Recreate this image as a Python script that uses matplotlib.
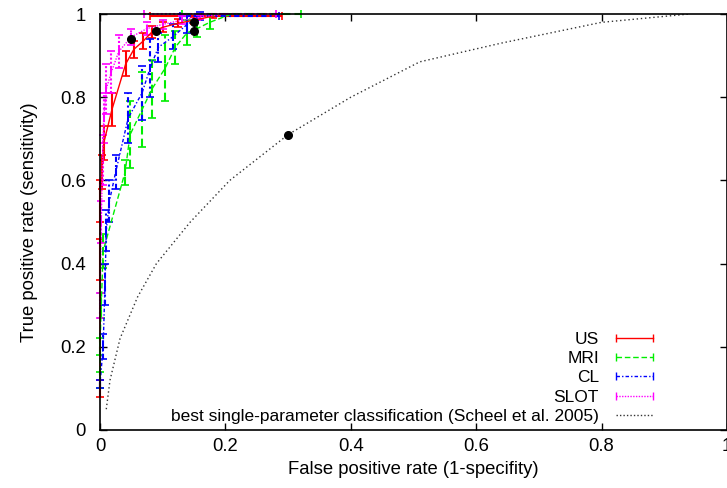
import numpy as np
import matplotlib
matplotlib.use("Agg")
import matplotlib.pyplot as plt
from matplotlib.lines import Line2D

plt.rcParams['font.family'] = ['Liberation Sans', 'DejaVu Sans']

# ROC points (false positive rate, true positive rate, vertical error)
us_fpr = [0.000, 0.000, 0.000, 0.003, 0.006, 0.019, 0.041, 0.054, 0.069, 0.083, 0.100, 0.125, 0.150, 0.180]
us_tpr = [0.10, 0.41, 0.55, 0.62, 0.69, 0.77, 0.88, 0.915, 0.935, 0.957, 0.968, 0.978, 0.985, 0.995]
us_err = [0.02, 0.05, 0.05, 0.04, 0.04, 0.04, 0.03, 0.02, 0.02, 0.015, 0.012, 0.01, 0.008, 0.005]
us_xerr = [0.10, 0.11]

mri_fpr = [0.000, 0.000, 0.002, 0.005, 0.040, 0.048, 0.067, 0.083, 0.104, 0.120, 0.139, 0.155, 0.175, 0.210]
mri_tpr = [0.12, 0.20, 0.30, 0.43, 0.62, 0.71, 0.77, 0.82, 0.87, 0.92, 0.955, 0.965, 0.98, 1.0]
mri_err = [0.02, 0.02, 0.03, 0.04, 0.03, 0.08, 0.09, 0.07, 0.08, 0.04, 0.03, 0.02, 0.015, 0.0]
mri_xerr = [0.08, 0.11]

cl_fpr = [0.000, 0.005, 0.008, 0.010, 0.015, 0.025, 0.045, 0.067, 0.080, 0.093, 0.116, 0.139, 0.160]
cl_tpr = [0.11, 0.20, 0.35, 0.48, 0.55, 0.62, 0.75, 0.81, 0.87, 0.92, 0.945, 0.975, 0.995]
cl_err = [0.01, 0.03, 0.05, 0.05, 0.05, 0.04, 0.06, 0.065, 0.07, 0.035, 0.03, 0.02, 0.01]
cl_xerr = [0.032, 0.125]

slot_fpr = [0.000, 0.002, 0.004, 0.006, 0.010, 0.018, 0.030, 0.050, 0.075, 0.100, 0.130, 0.160, 0.200]
slot_tpr = [0.30, 0.50, 0.65, 0.75, 0.82, 0.86, 0.91, 0.945, 0.965, 0.975, 0.985, 0.993, 1.0]
slot_err = [0.03, 0.05, 0.06, 0.06, 0.06, 0.05, 0.04, 0.02, 0.015, 0.01, 0.01, 0.005, 0.0]
slot_xerr = [0.13, 0.08]

scheel_fpr = [0.01, 0.016, 0.032, 0.06, 0.09, 0.144, 0.207, 0.30, 0.40, 0.51, 0.64, 0.80, 0.94]
scheel_tpr = [0.05, 0.12, 0.22, 0.32, 0.40, 0.50, 0.60, 0.71, 0.80, 0.885, 0.93, 0.98, 1.0]

best_fpr = [0.049, 0.09, 0.15, 0.15, 0.30]
best_tpr = [0.94, 0.96, 0.98, 0.96, 0.71]

series = [
    ("US", us_fpr, us_tpr, us_err, us_xerr, "#ff0000", "-"),
    ("MRI", mri_fpr, mri_tpr, mri_err, mri_xerr, "#00ee00", (0, (4, 2))),
    ("CL", cl_fpr, cl_tpr, cl_err, cl_xerr, "#0000ff", (0, (2.5, 1.5, 1, 1.5))),
    ("SLOT", slot_fpr, slot_tpr, slot_err, slot_xerr, "#ff00ff", (0, (1, 1))),
]

fig = plt.figure(figsize=(7.27, 4.88), dpi=100)
ax = fig.add_axes([100 / 727, 58 / 488, 627 / 727, 416 / 488])

handles = []
for name, fx, fy, ey, ex, col, ls in series:
    xerr = np.zeros((2, len(fx)))
    xerr[0, -1] = ex[0]
    xerr[1, -1] = ex[1]
    eb = ax.errorbar(fx, fy, yerr=ey, xerr=xerr, color=col, lw=1.0, elinewidth=1.5,
                     capsize=3, capthick=1.2, clip_on=False)
    eb[2][0].set_linestyle(ls)
    eb[2][1].set_linestyle(ls)
    eb[0].set_linestyle(ls)
    handles.append(Line2D([], [], color=col, lw=1.0, linestyle=ls, marker="|",
                          markersize=6, markeredgewidth=1.0, label=name))

ax.plot(scheel_fpr, scheel_tpr, color="#333333", lw=1.0, linestyle=(0, (1, 2)))
handles.append(Line2D([], [], color="#333333", lw=1.0, linestyle=(0, (1, 1.5)),
                      label="best single-parameter classification (Scheel et al. 2005)"))
ax.plot(best_fpr, best_tpr, "o", color="black", markersize=5.5, zorder=5)

ax.set_xlim(0, 1)
ax.set_ylim(0, 1)
ax.set_xticks([0, 0.2, 0.4, 0.6, 0.8, 1.0])
ax.set_xticklabels(["0", "0.2", "0.4", "0.6", "0.8", "1"])
ax.set_yticks([0, 0.2, 0.4, 0.6, 0.8, 1.0])
ax.set_yticklabels(["0", "0.2", "0.4", "0.6", "0.8", "1"])
ax.tick_params(direction="in", length=5, width=1, top=True, right=True,
               labelsize=13.3, pad=10)
ax.tick_params(axis="x", pad=6)
for sp in ax.spines.values():
    sp.set_linewidth(1.2)

ax.set_xlabel("False positive rate (1-specifity)", fontsize=13.3, labelpad=4)
ax.set_ylabel("True positive rate (sensitivity)", fontsize=13.3, labelpad=16)

leg = ax.legend(handles=handles, loc="lower right", bbox_to_anchor=(0.89, 0.015),
                frameon=False, markerfirst=False, numpoints=2, fontsize=12.5,
                handlelength=2.7, handletextpad=0.7, labelspacing=0.23,
                borderpad=0, borderaxespad=0)

fig.savefig("out.png", dpi=100)
